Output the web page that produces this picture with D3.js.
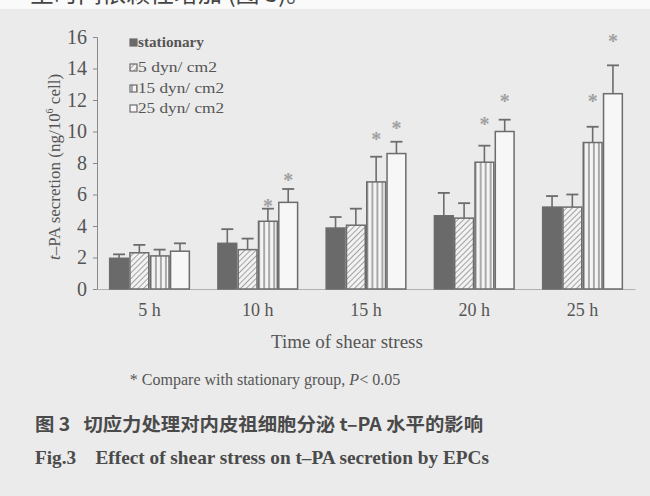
<!DOCTYPE html>
<html><head><meta charset="utf-8">
<script src="https://cdn.jsdelivr.net/npm/d3@7"></script>
<style>
html,body{margin:0;padding:0;background:#ebebeb;}
svg{display:block;}
text{white-space:pre;}
</style></head>
<body>
<svg id="chart" width="650" height="496"></svg>
<script>
const categories = ["5 h","10 h","15 h","20 h","25 h"];
const seriesNames = ["stationary","5 dyn/ cm2","15 dyn/ cm2","25 dyn/ cm2"];
const stationary = [1.95, 2.9, 3.87, 4.65, 5.2];
const dyn5 = [2.3, 2.5, 4.05, 4.5, 5.2];
const dyn15 = [2.1, 4.3, 6.8, 8.05, 9.3];
const dyn25 = [2.4, 5.5, 8.6, 10.0, 12.4];
const errStationary = [0.25, 0.9, 0.7, 1.45, 0.7];
const errDyn5 = [0.5, 0.7, 1.05, 0.95, 0.8];
const errDyn15 = [0.4, 0.8, 1.6, 1.05, 1.0];
const errDyn25 = [0.5, 0.85, 0.75, 0.75, 1.8];
// significance star positions (y value), null = none
const starsDyn15 = [null, 5.55, 9.75, 10.75, 12.2];
const starsDyn25 = [null, 7.2, 10.45, 12.2, 16.0];
const yTicks = [0,2,4,6,8,10,12,14,16];

const values = [stationary, dyn5, dyn15, dyn25];
const errs = [errStationary, errDyn5, errDyn15, errDyn25];
const stars = [null, null, starsDyn15, starsDyn25];

const svg = d3.select("#chart");
const txt = "#555";
const stroke = "#6c6c6c";
const serif = "'Liberation Serif','Times New Roman',serif";

// top white strip with clipped text line (continuation of page text)
svg.append("rect").attr("x",0).attr("y",0).attr("width",650).attr("height",9).attr("fill","#fafafa");
svg.append("text").attr("x",30).attr("y",2).attr("font-family","'Noto Sans CJK SC'")
  .attr("font-size",24).attr("fill","#444").text("呈时间依赖性增加 (图 3)。");

const defs = svg.append("defs");
const hatch = defs.append("pattern").attr("id","hatch").attr("patternUnits","userSpaceOnUse")
  .attr("width",4).attr("height",4).attr("patternTransform","rotate(-45)");
hatch.append("rect").attr("width",4).attr("height",4).attr("fill","#f2f2f2");
hatch.append("line").attr("x1",0).attr("y1",0).attr("x2",4).attr("y2",0).attr("stroke","#777").attr("stroke-width",1.3);
const vert = defs.append("pattern").attr("id","vert").attr("patternUnits","userSpaceOnUse")
  .attr("width",5).attr("height",5);
vert.append("rect").attr("width",5).attr("height",5).attr("fill","#f4f4f4");
vert.append("line").attr("x1",2).attr("y1",0).attr("x2",2).attr("y2",5).attr("stroke","#777").attr("stroke-width",1.2);

const fills = ["#6a6a6a","url(#hatch)","url(#vert)","#f7f7f7"];

const y = d3.scaleLinear().domain([0,16]).range([289,37]);
const x0 = d3.scaleBand().domain(categories).range([97,635]).paddingInner(0.25).paddingOuter(0.11);
const x1 = d3.scaleBand().domain(d3.range(4)).range([0,x0.bandwidth()]).padding(0);

// axes
const yAxis = svg.append("g").attr("transform","translate(97,0)")
  .call(d3.axisLeft(y).tickValues(yTicks).tickSize(4).tickPadding(6));
yAxis.select(".domain").attr("stroke","#8a8a8a").attr("stroke-width",1);
yAxis.selectAll(".tick line").attr("stroke","#8a8a8a");
yAxis.selectAll(".tick text").attr("font-family",serif).attr("font-size",20).attr("fill",txt);

const xAxis = svg.append("g").attr("transform","translate(0,289)")
  .call(d3.axisBottom(x0).tickSize(0).tickPadding(14));
xAxis.select(".domain").attr("stroke","#b0b0b0").attr("stroke-width",1);
xAxis.selectAll(".tick text").attr("font-family",serif).attr("font-size",18).attr("fill",txt);

// bars
categories.forEach((c,i)=>{
  const g = svg.append("g").attr("transform",`translate(${x0(c)},0)`);
  values.forEach((s,k)=>{
    const bx = x1(k), bw = x1.bandwidth();
    const v = s[i], e = errs[k][i];
    const cx = bx + bw/2;
    g.append("line").attr("x1",cx).attr("x2",cx).attr("y1",y(v)).attr("y2",y(v+e))
      .attr("stroke",stroke).attr("stroke-width",1.6);
    g.append("line").attr("x1",cx-6).attr("x2",cx+6).attr("y1",y(v+e)).attr("y2",y(v+e))
      .attr("stroke",stroke).attr("stroke-width",1.8);
    g.append("rect").attr("x",bx+0.75).attr("y",y(v)).attr("width",bw-1.5).attr("height",y(0)-y(v))
      .attr("fill",fills[k]).attr("stroke",stroke).attr("stroke-width",1.5);
    if (stars[k] && stars[k][i] != null) {
      g.append("text").attr("x",cx).attr("y",y(stars[k][i])+11).attr("text-anchor","middle")
        .attr("font-family",serif).attr("font-size",20).attr("font-weight","bold").attr("fill","#a0a0a0").text("*");
    }
  });
});

// legend
const legY = [43,68,89,109];
const legW = [66,79,86,86];
seriesNames.forEach((n,k)=>{
  const lg = svg.append("g").attr("transform",`translate(130,${legY[k]})`);
  lg.append("rect").attr("x",0).attr("y",-4).attr("width",7).attr("height",7)
    .attr("fill",fills[k]).attr("stroke",stroke).attr("stroke-width",1.2);
  lg.append("text").attr("x",8).attr("y",4).attr("font-family",serif).attr("font-size",14)
    .attr("fill",txt).attr("font-weight", k===0?"bold":"normal")
    .attr("textLength",legW[k]).attr("lengthAdjust","spacingAndGlyphs").text(n);
});

// y label
const yl = svg.append("text").attr("transform","translate(60,167) rotate(-90)")
  .attr("text-anchor","middle").attr("font-family",serif).attr("font-size",17).attr("fill",txt);
yl.append("tspan").attr("font-style","italic").text("t");
yl.append("tspan").text("–PA secretion (ng/10");
yl.append("tspan").attr("font-size",10).attr("dy",-7).text("6");
yl.append("tspan").attr("dy",7).text(" cell)");

// x label
svg.append("text").attr("x",347).attr("y",348).attr("text-anchor","middle")
  .attr("font-family",serif).attr("font-size",19).attr("fill",txt).text("Time of shear stress");

// footnote
const fn = svg.append("text").attr("x",265).attr("y",385).attr("text-anchor","middle")
  .attr("font-family",serif).attr("font-size",16).attr("fill",txt);
fn.append("tspan").text("* Compare with stationary group, ");
fn.append("tspan").attr("font-style","italic").text("P");
fn.append("tspan").text("< 0.05");

// captions
svg.append("text").attr("x",35).attr("y",431).attr("font-family","'Noto Sans CJK SC'")
  .attr("font-size",18).attr("font-weight","bold").attr("fill","#4a4a4a")
  .attr("textLength",448).attr("lengthAdjust","spacingAndGlyphs")
  .text("图 3   切应力处理对内皮祖细胞分泌 t–PA 水平的影响");
svg.append("text").attr("x",35).attr("y",464).attr("font-family",serif)
  .attr("font-size",19).attr("font-weight","bold").attr("fill","#4a4a4a")
  .attr("textLength",454).attr("lengthAdjust","spacingAndGlyphs")
  .text("Fig.3    Effect of shear stress on t–PA secretion by EPCs");
</script>
</body></html>
